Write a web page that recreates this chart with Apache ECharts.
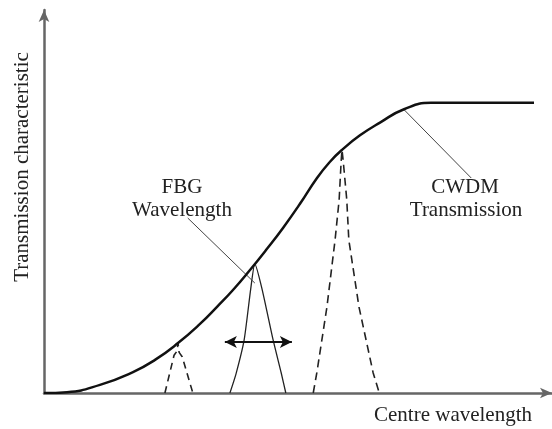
<!DOCTYPE html>
<html>
<head>
<meta charset="utf-8">
<script src="https://cdn.jsdelivr.net/npm/echarts@6/dist/echarts.min.js"></script>
<style>
  html, body { margin: 0; padding: 0; background: #fff; }
  #chart { width: 552px; height: 429px; }
</style>
</head>
<body>
<div id="chart"></div>
<script>
// CWDM transmission curve (x: centre wavelength, y: transmission, 1 = plateau)
const curveX = [0, 4.53, 11.02, 17.52, 21.85, 26.38, 30.71, 34.06, 37.20, 40.55, 43.90, 47.05,
  50.39, 53.74, 56.30, 58.66, 62.20, 66.14, 70.87, 76.18, 96.46];
const curveY = [0, 0.003, 0.028, 0.072, 0.114, 0.172, 0.238, 0.297, 0.355, 0.424, 0.497, 0.569,
  0.652, 0.741, 0.797, 0.838, 0.888, 0.932, 0.978, 1.0, 1.0];

// small dashed FBG peak
const smallPeakX = [23.8, 25.6, 26.2, 26.38, 26.6, 27.2, 29.3];
const smallPeakY = [0, 0.13, 0.145, 0.172, 0.14, 0.125, 0];

// solid FBG peak
const fbgPeakX = [36.6, 37.8, 39.4, 40.7, 41.5, 42.9, 45.1, 46.7, 47.6];
const fbgPeakY = [0, 0.066, 0.183, 0.36, 0.445, 0.36, 0.183, 0.069, 0];

// large dashed FBG peak
const bigPeakX = [53.0, 53.7, 55.7, 57.3, 58.1, 58.5, 58.66, 58.9, 59.6, 60.0, 62.0, 64.8, 66.0];
const bigPeakY = [0, 0.069, 0.297, 0.528, 0.666, 0.8, 0.838, 0.8, 0.666, 0.528, 0.297, 0.069, 0];

// leader lines and shift arrow
const fbgLeaderX = [28.3, 41.5];
const fbgLeaderY = [0.603, 0.379];
const cwdmLeaderX = [70.9, 84.1];
const cwdmLeaderY = [0.976, 0.741];
const shiftArrowX = [35.6, 48.8];
const shiftArrowY = 0.176;

const zip = (xs, ys) => xs.map((x, i) => [x, ys[i]]);

const chart = echarts.init(document.getElementById('chart'), null, { renderer: 'canvas' });

const serif = '"Liberation Serif", "DejaVu Serif", serif';
const textColor = '#222';

const option = {
  backgroundColor: '#fff',
  animation: false,
  grid: { left: 44, right: 0, top: 10, bottom: 36 },
  xAxis: {
    type: 'value',
    min: 0,
    max: 100,
    axisLine: {
      show: true,
      symbol: ['none', 'arrow'],
      symbolSize: [8, 12],
      lineStyle: { color: '#666', width: 2.5 }
    },
    axisTick: { show: false },
    axisLabel: { show: false },
    splitLine: { show: false }
  },
  yAxis: {
    type: 'value',
    min: 0,
    max: 1.32,
    axisLine: {
      show: true,
      symbol: ['none', 'arrow'],
      symbolSize: [8, 12],
      lineStyle: { color: '#666', width: 2.5 }
    },
    axisTick: { show: false },
    axisLabel: { show: false },
    splitLine: { show: false }
  },
  graphic: [
    {
      type: 'text', x: 22, y: 167, rotation: Math.PI / 2,
      style: { text: 'Transmission characteristic', font: '21px ' + serif, fill: textColor, textAlign: 'center', textVerticalAlign: 'middle' }
    },
    {
      type: 'text', x: 453, y: 415,
      style: { text: 'Centre wavelength', font: '21px ' + serif, fill: textColor, textAlign: 'center', textVerticalAlign: 'middle' }
    },
    {
      type: 'text', x: 182, y: 187,
      style: { text: 'FBG', font: '21px ' + serif, fill: textColor, textAlign: 'center', textVerticalAlign: 'middle' }
    },
    {
      type: 'text', x: 182, y: 210,
      style: { text: 'Wavelength', font: '21px ' + serif, fill: textColor, textAlign: 'center', textVerticalAlign: 'middle' }
    },
    {
      type: 'text', x: 465, y: 187,
      style: { text: 'CWDM', font: '21px ' + serif, fill: textColor, textAlign: 'center', textVerticalAlign: 'middle' }
    },
    {
      type: 'text', x: 466, y: 210,
      style: { text: 'Transmission', font: '21px ' + serif, fill: textColor, textAlign: 'center', textVerticalAlign: 'middle' }
    }
  ],
  series: [
    {
      name: 'CWDM Transmission',
      type: 'line',
      data: zip(curveX, curveY),
      smooth: 0.5,
      symbol: 'none',
      lineStyle: { color: '#111', width: 2.5 },
      z: 5
    },
    {
      name: 'Small peak',
      type: 'line',
      data: zip(smallPeakX, smallPeakY),
      symbol: 'none',
      lineStyle: { color: '#222', width: 1.6, type: [7, 5] }
    },
    {
      name: 'FBG peak',
      type: 'line',
      data: zip(fbgPeakX, fbgPeakY),
      smooth: 0.2,
      symbol: 'none',
      lineStyle: { color: '#222', width: 1.3 }
    },
    {
      name: 'Big peak',
      type: 'line',
      data: zip(bigPeakX, bigPeakY),
      symbol: 'none',
      lineStyle: { color: '#222', width: 1.6, type: [8, 5] }
    },
    {
      name: 'FBG leader',
      type: 'line',
      data: zip(fbgLeaderX, fbgLeaderY),
      symbol: 'none',
      lineStyle: { color: '#444', width: 1 }
    },
    {
      name: 'CWDM leader',
      type: 'line',
      data: zip(cwdmLeaderX, cwdmLeaderY),
      symbol: 'none',
      lineStyle: { color: '#444', width: 1 },
      markLine: {
        silent: true,
        symbol: ['arrow', 'arrow'],
        symbolSize: [9, 12],
        label: { show: false },
        lineStyle: { color: '#111', width: 1.8, type: 'solid' },
        data: [[
          { coord: [shiftArrowX[0], shiftArrowY] },
          { coord: [shiftArrowX[1], shiftArrowY] }
        ]]
      }
    }
  ]
};

chart.setOption(option);
</script>
</body>
</html>
